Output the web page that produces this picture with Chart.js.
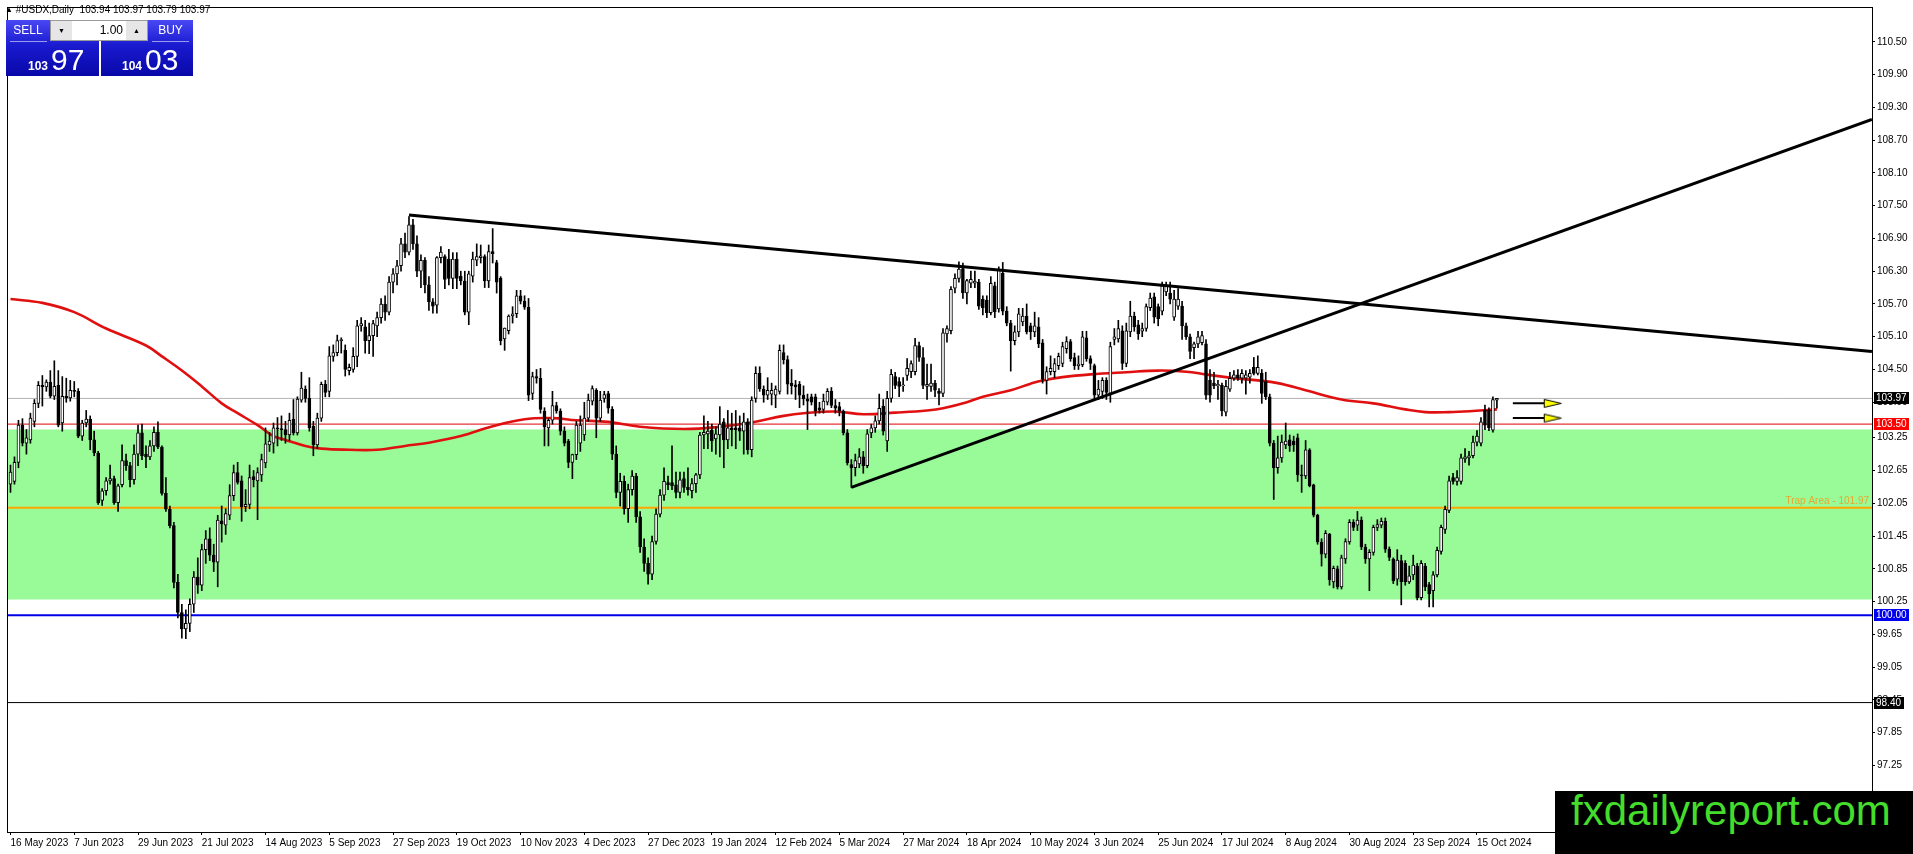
<!DOCTYPE html>
<html>
<head>
<meta charset="utf-8">
<title>#USDX,Daily</title>
<script src="https://cdn.jsdelivr.net/npm/chart.js@4.4.1/dist/chart.umd.min.js"></script>
<style>
  body { margin: 0; background: #fff; overflow: hidden; font-family: "Liberation Sans", Arial, sans-serif; }
  #wrap { position: relative; width: 1913px; height: 854px; }
  #usdx { position: absolute; left: 0; top: 0; }
  .title { position: absolute; left: 5px; top: 4px; font-size: 10px; color: #000; white-space: pre; }
  .title .tri { font-size: 8px; position: relative; top: -1px; }
  .blk { position: absolute; top: 20px; height: 56px; background: linear-gradient(#4848f4, #1a1ad0 45%, #0808a8); }
  .blk.sell { left: 6px; width: 93px; }
  .blk.buy { left: 101px; width: 92px; }
  .lbl { position: absolute; top: 20px; height: 21px; line-height: 21px; color: #fff; font-size: 12px; text-align: center; }
  .sep { position: absolute; top: 41px; height: 1px; background: rgba(255,255,255,0.55); }
  .spin { position: absolute; left: 50px; top: 20px; width: 96px; height: 19px; background: #fff; border: 1px solid #9a9a9a; }
  .btn { position: absolute; top: 0; width: 21px; height: 19px; background: #e6e6e6; font-size: 7px; line-height: 19px; text-align: center; color: #000; }
  .val { position: absolute; right: 24px; top: 0; line-height: 19px; font-size: 12px; color: #000; }
  .price { position: absolute; top: 45px; font-size: 30px; line-height: 1; color: #fff; white-space: nowrap; }
  .price b { font-size: 12px; font-weight: bold; margin-right: 3px; }
  .brand { position: absolute; left: 1555px; top: 791px; width: 358px; height: 63px; background: #000; overflow: hidden; }
  .brand span { position: absolute; left: 16px; top: -1px; font-size: 42px; line-height: 1; color: #44dd2c; white-space: nowrap; }
</style>
</head>
<body>
<div id="wrap">
  <canvas id="usdx" width="1913" height="854"></canvas>
  <div class="title"><span class="tri">&#9650;</span> #USDX,Daily  103.94 103.97 103.79 103.97</div>
  <div class="blk sell"></div>
  <div class="blk buy"></div>
  <div class="lbl" style="left:6px;width:44px">SELL</div>
  <div class="lbl" style="left:148px;width:45px">BUY</div>
  <div class="sep" style="left:10px;width:37px"></div>
  <div class="sep" style="left:152px;width:37px"></div>
  <div class="spin">
    <div class="btn" style="left:0">&#9660;</div>
    <div class="val">1.00</div>
    <div class="btn" style="right:0">&#9650;</div>
  </div>
  <div class="price" style="left:28px"><b>103</b>97</div>
  <div class="price" style="left:122px"><b>104</b>03</div>
  <div class="brand"><span>fxdailyreport.com</span></div>
</div>
<script>
// Daily bars, 16 May 2023 .. 22 Oct 2024
const opens = [
  102.40,102.45,102.80,103.48,103.15,103.21,103.55,103.88,104.21,104.18,
  104.27,104.01,104.21,103.52,104.01,103.98,104.12,104.10,103.28,103.52,
  103.59,103.21,102.97,102.10,102.28,102.46,102.50,102.06,102.39,102.83,
  102.74,102.48,102.95,103.34,102.95,102.90,103.10,103.35,103.08,102.23,
  101.94,101.64,100.60,100.05,99.75,99.85,100.20,100.70,100.55,101.20,
  101.40,101.10,100.97,101.73,101.65,101.83,102.19,102.61,102.46,101.99,
  102.03,102.54,102.46,102.57,102.79,103.12,103.15,103.43,103.42,103.40,
  103.30,103.59,103.34,103.94,104.14,103.97,103.46,103.12,103.61,104.23,
  104.10,104.74,104.81,105.03,104.85,104.48,104.50,104.74,105.30,105.28,
  105.03,105.12,105.30,105.45,105.70,105.55,106.10,106.25,106.40,106.80,
  106.65,107.15,106.80,106.30,106.50,106.05,105.74,105.68,106.55,106.57,
  106.52,106.17,106.52,106.21,106.12,105.55,106.21,106.50,106.55,106.57,
  106.12,106.66,106.46,106.17,105.06,105.21,105.48,105.52,105.85,105.75,
  105.64,104.06,104.37,104.34,103.74,103.43,103.57,103.84,103.74,103.37,
  103.19,102.80,102.94,103.15,103.30,103.61,103.92,104.12,103.61,103.97,
  104.06,103.77,102.95,102.25,102.45,101.95,102.30,102.55,101.80,101.25,
  100.95,100.75,101.35,101.85,102.20,102.43,102.43,102.39,102.25,102.50,
  102.34,102.28,102.41,102.57,103.30,103.32,103.39,103.23,103.30,103.54,
  103.21,103.43,103.43,103.43,103.37,103.54,103.03,103.97,104.43,104.14,
  104.03,104.05,104.03,104.10,104.81,104.68,104.25,104.22,104.23,104.03,
  103.96,104.00,104.00,103.80,103.77,103.90,104.10,103.84,103.82,103.74,
  103.34,102.76,102.70,102.77,102.90,102.74,103.34,103.43,103.56,103.83,
  103.19,103.97,104.37,104.28,104.20,104.39,104.46,104.46,104.94,104.72,
  104.19,104.19,104.25,104.10,104.06,105.15,105.21,105.99,106.17,106.35,
  105.90,106.08,106.08,106.10,105.79,105.77,105.54,106.03,105.61,106.26,
  105.57,105.35,105.03,105.19,105.37,105.48,105.30,105.19,105.28,104.99,
  104.30,104.46,104.46,104.57,104.61,104.88,105.01,104.72,104.57,104.59,
  105.08,104.70,104.57,104.03,104.10,104.30,104.06,105.05,105.06,105.21,
  104.61,105.19,105.48,105.32,105.20,105.25,105.63,105.83,105.65,105.57,
  105.92,105.90,105.46,105.66,105.66,105.30,105.10,104.90,104.97,104.99,
  104.97,104.30,104.25,104.20,104.21,103.72,104.14,104.34,104.40,104.34,
  104.34,104.36,104.54,104.43,104.43,104.28,104.00,103.15,102.70,102.88,
  103.12,103.21,103.19,103.25,102.57,102.55,103.03,102.39,101.83,101.34,
  101.12,101.48,100.61,100.85,100.52,101.03,101.34,101.70,101.65,101.74,
  101.25,101.03,101.15,101.61,101.65,101.72,101.21,101.03,100.66,101.00,
  100.95,100.61,100.74,100.90,100.32,100.90,100.56,100.45,100.74,101.17,
  101.57,101.92,102.52,102.45,102.45,102.86,102.88,102.92,103.17,103.15,
  103.75,103.75,103.39,103.94
];
const highs = [
  102.75,102.90,103.57,103.60,103.40,103.70,103.95,104.28,104.39,104.31,
  104.48,104.66,104.48,104.37,104.34,104.30,104.28,104.15,103.57,103.75,
  103.65,103.37,103.00,102.32,102.52,102.75,102.55,102.40,103.12,102.95,
  102.80,103.12,103.48,103.50,103.10,103.20,103.45,103.54,103.10,102.52,
  102.00,101.70,100.75,100.20,100.10,100.30,100.80,101.05,101.30,101.55,
  101.60,101.30,101.83,102.00,101.95,102.39,102.75,102.80,102.55,102.30,
  102.75,102.65,102.70,102.95,103.43,103.35,103.52,103.62,103.65,103.55,
  103.70,103.95,104.00,104.45,104.20,104.35,103.55,103.70,104.27,104.30,
  104.92,104.95,105.13,105.08,104.95,104.60,104.90,105.40,105.45,105.40,
  105.35,105.40,105.55,105.80,105.85,106.20,106.35,106.50,106.90,107.00,
  107.30,107.25,106.95,106.60,106.55,106.20,105.80,106.57,106.75,106.60,
  106.70,106.64,106.64,106.30,106.30,106.30,106.65,106.80,106.78,106.60,
  106.78,107.08,106.50,106.20,105.26,105.50,105.65,105.95,105.95,105.85,
  105.80,104.45,104.50,104.52,103.80,103.60,104.10,103.90,103.78,103.45,
  103.22,102.95,103.55,103.65,103.90,104.05,104.20,104.15,104.10,104.10,
  104.10,103.82,103.10,102.60,102.55,102.40,102.65,102.60,101.90,101.40,
  101.05,101.45,101.95,102.30,102.70,102.55,103.10,102.62,102.62,102.62,
  102.70,102.50,102.60,103.35,103.65,103.55,103.50,103.45,103.82,103.60,
  103.75,103.70,103.75,103.65,103.70,103.60,104.00,104.55,104.55,104.20,
  104.35,104.25,104.20,104.95,104.95,104.75,104.50,104.30,104.28,104.20,
  104.05,104.05,104.05,103.90,104.05,104.15,104.17,103.95,103.90,103.76,
  103.40,102.85,102.95,103.05,103.00,103.40,103.50,103.65,104.05,103.95,
  104.10,104.50,104.45,104.35,104.35,104.70,104.66,105.07,105.00,104.90,
  104.60,104.60,104.30,104.15,105.25,105.30,106.02,106.25,106.47,106.45,
  106.15,106.30,106.30,106.15,105.85,105.85,106.20,106.10,106.38,106.46,
  105.65,105.40,105.30,105.62,105.62,105.70,105.35,105.55,105.45,105.05,
  104.55,104.75,104.70,104.80,105.00,105.10,105.05,104.80,104.75,105.20,
  105.20,104.75,104.60,104.30,104.35,104.35,105.00,105.25,105.40,105.30,
  105.35,105.75,105.55,105.40,105.35,105.70,105.90,105.90,105.70,106.10,
  106.10,106.10,105.95,105.98,105.75,105.35,105.15,105.00,105.20,105.20,
  105.05,104.50,104.45,104.30,104.25,104.30,104.45,104.48,104.50,104.50,
  104.48,104.50,104.72,104.75,104.50,104.45,104.05,103.20,103.28,103.30,
  103.52,103.30,103.28,103.32,102.75,103.20,103.05,102.40,101.85,101.40,
  101.55,101.50,100.90,100.90,101.10,101.40,101.75,101.75,101.90,101.80,
  101.30,101.20,101.65,101.75,101.78,101.78,101.25,101.05,101.20,101.10,
  101.00,100.90,101.10,100.95,101.00,100.95,100.60,100.80,101.25,101.65,
  102.00,102.55,102.60,102.65,102.95,103.05,103.00,103.28,103.38,103.62,
  103.85,103.80,104.00,103.97
];
const lows = [
  102.25,102.40,102.70,103.10,102.95,103.15,103.45,103.80,103.83,104.10,
  103.98,103.95,103.45,103.37,103.90,103.92,104.00,103.25,103.20,103.45,
  103.03,102.92,102.03,102.01,102.20,102.40,102.03,101.90,102.35,102.65,
  102.35,102.40,102.74,102.85,102.70,102.85,103.00,103.05,102.20,101.90,
  101.60,100.50,99.95,99.58,99.57,99.70,100.05,100.40,100.45,100.95,
  101.00,100.80,100.52,101.34,101.48,101.75,102.10,102.40,101.72,101.90,
  101.95,102.35,101.75,102.45,102.70,103.00,102.97,103.10,103.20,103.15,
  103.20,103.30,103.30,103.90,103.90,103.37,102.92,103.05,103.55,104.00,
  104.00,104.65,104.75,104.80,104.38,104.40,104.45,104.55,105.20,104.80,
  104.79,104.74,105.10,105.35,105.40,105.50,105.90,106.05,106.30,106.55,
  106.60,106.70,106.20,106.00,105.90,105.58,105.53,105.53,106.45,105.98,
  106.05,105.98,105.98,106.05,105.50,105.32,106.10,106.40,106.45,106.00,
  106.00,106.45,105.90,104.95,104.85,105.15,105.35,105.45,105.70,105.60,
  103.93,103.95,104.25,103.70,103.10,103.10,103.50,103.70,103.30,103.10,
  102.70,102.50,102.85,103.00,103.20,103.55,103.85,103.25,103.55,103.90,
  103.70,102.85,102.15,102.00,101.85,101.70,102.20,101.70,101.15,100.80,
  100.57,100.65,101.30,101.80,102.10,102.30,102.30,102.15,102.15,102.25,
  102.20,102.15,102.25,102.50,103.05,103.05,103.00,102.95,102.90,102.70,
  103.05,103.10,103.05,103.20,102.95,102.95,102.90,103.90,104.10,103.90,
  103.95,103.85,103.80,104.05,104.60,104.05,104.05,103.95,103.80,103.85,
  103.40,103.85,103.65,103.70,103.70,103.85,103.80,103.70,103.65,103.30,
  102.75,102.34,102.55,102.70,102.60,102.70,103.25,103.35,103.50,103.30,
  103.00,103.90,104.15,104.00,104.10,104.30,104.35,104.40,104.65,104.15,
  103.95,104.10,104.00,103.85,104.00,105.00,105.15,105.90,106.10,105.80,
  105.70,106.00,106.00,105.60,105.50,105.45,105.50,105.45,105.55,105.50,
  105.30,104.47,104.95,105.10,105.30,105.15,105.05,105.10,104.90,104.25,
  104.05,104.40,104.35,104.50,104.55,104.80,104.65,104.50,104.50,104.55,
  104.65,104.50,103.95,103.95,103.97,103.95,103.90,104.95,105.00,104.50,
  104.55,105.10,105.20,105.05,105.10,105.20,105.58,105.35,105.30,105.50,
  105.85,105.70,105.40,105.60,105.05,105.05,104.70,104.70,104.90,104.95,
  103.95,103.90,104.15,103.95,103.65,103.65,104.10,104.30,104.30,104.25,
  104.05,104.25,104.40,104.40,103.88,103.95,103.10,102.12,102.60,102.80,
  103.05,103.00,103.00,102.45,102.25,102.50,102.35,101.80,101.30,100.90,
  101.05,100.55,100.50,100.48,100.48,100.95,101.30,101.55,101.55,101.20,
  100.95,100.45,101.10,101.55,101.60,101.15,101.00,100.58,100.55,100.19,
  100.55,100.58,100.65,100.28,100.28,100.45,100.15,100.15,100.70,101.12,
  101.50,101.88,102.40,102.38,102.40,102.80,102.75,102.88,103.10,103.10,
  103.40,103.38,103.35,103.79
];
const closes = [
  102.62,102.80,103.48,103.15,103.25,103.61,103.88,104.21,104.18,104.27,
  104.01,104.19,103.48,104.01,103.98,104.12,104.10,103.28,103.52,103.59,
  103.21,102.97,102.06,102.28,102.46,102.50,102.06,102.37,102.83,102.74,
  102.48,102.95,103.34,102.92,102.90,103.10,103.35,103.08,102.23,101.94,
  101.64,100.60,100.05,99.75,99.85,100.20,100.70,100.55,101.20,101.40,
  101.10,100.97,101.74,101.67,101.86,102.19,102.61,102.43,101.99,102.03,
  102.52,102.48,102.61,102.85,103.14,103.19,103.43,103.41,103.40,103.30,
  103.57,103.34,103.96,104.16,103.97,103.43,103.12,103.61,104.23,104.08,
  104.75,104.81,105.03,105.05,104.50,104.54,104.74,105.30,105.34,105.03,
  105.12,105.34,105.45,105.70,105.55,106.10,106.25,106.40,106.80,106.65,
  107.15,106.80,106.30,106.50,106.05,105.74,105.66,106.55,106.65,106.15,
  106.17,106.52,106.17,106.12,105.55,106.25,106.52,106.57,106.58,106.12,
  106.66,106.62,106.10,105.03,105.26,105.48,105.52,105.85,105.75,105.64,
  104.03,104.37,104.34,103.77,103.45,103.57,103.84,103.74,103.37,103.15,
  102.80,102.94,103.48,103.48,103.61,103.94,104.15,103.61,103.94,104.04,
  103.79,102.95,102.25,102.45,101.95,102.30,102.55,101.80,101.25,100.95,
  100.75,101.35,101.85,102.20,102.45,102.39,102.37,102.25,102.48,102.34,
  102.30,102.41,102.57,103.30,103.35,103.37,103.19,103.32,103.50,103.21,
  103.43,103.40,103.40,103.37,103.54,103.03,103.94,104.43,104.15,104.03,
  104.12,104.12,104.14,104.85,104.68,104.23,104.20,104.18,104.03,103.96,
  103.92,103.90,103.74,103.76,103.92,104.10,103.84,103.79,103.74,103.34,
  102.79,102.70,102.83,102.90,102.74,103.32,103.43,103.56,103.79,103.37,
  103.97,104.41,104.21,104.19,104.22,104.52,104.61,104.94,104.72,104.21,
  104.23,104.25,104.12,104.06,105.17,105.25,105.97,106.17,106.34,105.90,
  106.13,106.15,106.12,105.66,105.63,105.54,106.08,105.56,106.34,105.57,
  105.35,105.03,105.19,105.52,105.48,105.19,105.19,105.30,104.97,104.32,
  104.46,104.52,104.61,104.74,104.92,105.01,104.70,104.57,104.60,105.10,
  104.70,104.61,104.03,104.14,104.30,104.08,104.92,105.10,105.25,104.61,
  105.21,105.48,105.28,105.15,105.25,105.65,105.81,105.46,105.43,106.03,
  106.03,105.79,105.79,105.79,105.30,105.10,104.83,104.97,105.10,105.12,
  104.03,104.03,104.20,104.23,103.74,104.19,104.34,104.40,104.34,104.43,
  104.40,104.43,104.43,104.54,104.06,104.00,103.15,102.70,102.88,103.17,
  103.19,103.10,103.12,102.57,102.55,103.03,102.37,101.83,101.34,101.12,
  101.50,100.65,100.86,100.52,101.05,101.35,101.70,101.61,101.74,101.25,
  101.03,101.15,101.61,101.66,101.72,101.21,101.06,100.63,101.01,100.61,
  100.61,100.72,100.92,100.32,100.95,100.52,100.39,100.74,101.19,101.61,
  101.94,102.46,102.45,102.52,102.88,102.90,102.92,103.17,103.28,103.54,
  103.48,103.43,103.95,103.97
];

// moving average (red curve), sampled at bar positions
const maBars =   [0, 8, 16, 24, 34, 38, 43, 48, 53, 57, 62, 66, 69, 74, 78, 85, 92, 99, 105, 113,
                  121, 129, 136, 142, 150, 158, 169, 178, 186, 194, 199, 207, 214, 222, 230, 234, 240, 244, 251, 256,
                  259, 264, 271, 280, 288, 295, 300, 307, 313, 318, 325, 334, 342, 350, 355, 361, 367, 373];
const maValues = [105.79, 105.72, 105.55, 105.25, 104.94, 104.74, 104.48, 104.19, 103.88, 103.70, 103.48, 103.28, 103.21, 103.10, 103.05, 103.03, 103.03, 103.10, 103.16, 103.28,
                  103.46, 103.59, 103.61, 103.57, 103.54, 103.45, 103.41, 103.45, 103.53, 103.65, 103.70, 103.73, 103.68, 103.71, 103.75, 103.79, 103.90, 104.00, 104.12, 104.24,
                  104.30, 104.36, 104.41, 104.45, 104.48, 104.46, 104.41, 104.34, 104.30, 104.25, 104.12, 103.95, 103.88, 103.77, 103.72, 103.72, 103.74, 103.77];

// drawn objects
const topLineBars = [100, 467.1];
const topLinePrices = [107.33, 104.83];
const riseLineBars = [211, 467.1];
const riseLinePrices = [102.34, 109.08];
const arrowBars = [377, 387];
const arrowPrices = [103.88, 103.61];
const levelPrices = [103.97, 103.50, 101.97, 100.00, 98.40];
const zoneBounds = [100.29, 103.40];
const trapLevel = 101.97;
const tagPrices = [103.97, 103.50, 100.00, 98.40];

// axis ticks
const dateTicks = ['16 May 2023', '7 Jun 2023', '29 Jun 2023', '21 Jul 2023', '14 Aug 2023', '5 Sep 2023',
                   '27 Sep 2023', '19 Oct 2023', '10 Nov 2023', '4 Dec 2023', '27 Dec 2023', '19 Jan 2024',
                   '12 Feb 2024', '5 Mar 2024', '27 Mar 2024', '18 Apr 2024', '10 May 2024', '3 Jun 2024',
                   '25 Jun 2024', '17 Jul 2024', '8 Aug 2024', '30 Aug 2024', '23 Sep 2024', '15 Oct 2024'];
const priceTicks = [110.50, 109.90, 109.30, 108.70, 108.10, 107.50, 106.90, 106.30, 105.70, 105.10, 104.50, 103.90,
                    103.25, 102.65, 102.05, 101.45, 100.85, 100.25, 99.65, 99.05, 98.45, 97.85, 97.25, 96.65];

// styles
const levelColors = ['#b4b4b4', '#e00000', '#ffa500', '#0000e6', '#000000'];
const levelWidths = [1, 1, 2, 2, 1];
const tagColors = ['#000000', '#ff0000', '#0000f0', '#000000'];
const axisFont = { family: '"Liberation Sans", Arial, sans-serif', size: 10 };

const xMin = -0.625, xMax = 467.125;

function hline(p) {
  return [{ x: xMin, y: p }, { x: xMax, y: p }];
}

function pairs(xs, ys) {
  return xs.map((x, i) => ({ x: x, y: ys[i] }));
}

// yellow arrow head used as point image
function arrowHead() {
  const c = document.createElement('canvas');
  c.width = 20; c.height = 11;
  const g = c.getContext('2d');
  g.beginPath();
  g.moveTo(1.5, 1.5); g.lineTo(18.5, 5.5); g.lineTo(1.5, 9.5); g.closePath();
  g.fillStyle = '#ffff00'; g.fill();
  g.strokeStyle = '#000'; g.lineWidth = 1; g.stroke();
  return c;
}

// MT4-like frame, trap label and price tags on the right axis
const chartDecor = {
  id: 'chartDecor',
  afterDraw(chart) {
    const { ctx, chartArea: a, scales: { y } } = chart;
    ctx.save();
    ctx.strokeStyle = '#000';
    ctx.lineWidth = 1;
    ctx.strokeRect(a.left - 0.5, a.top - 0.5, a.right - a.left + 1, a.bottom - a.top + 1);

    ctx.font = '10px "Liberation Sans", Arial, sans-serif';
    ctx.fillStyle = '#e8a830';
    ctx.textAlign = 'right';
    ctx.textBaseline = 'bottom';
    ctx.fillText('Trap Area - ' + trapLevel.toFixed(2), a.right - 3, y.getPixelForValue(trapLevel) - 1);

    ctx.textAlign = 'left';
    ctx.textBaseline = 'middle';
    tagPrices.forEach((p, k) => {
      const py = Math.round(y.getPixelForValue(p));
      const txt = p.toFixed(2);
      const w = Math.ceil(ctx.measureText(txt).width) + 4;
      ctx.fillStyle = tagColors[k];
      ctx.fillRect(a.right + 2, py - 6, w, 12);
      ctx.fillStyle = '#fff';
      ctx.fillText(txt, a.right + 4, py + 0.5);
    });
    ctx.restore();
  }
};

document.addEventListener('DOMContentLoaded', function () {
  const ctx = document.getElementById('usdx').getContext('2d');
  const head = arrowHead();

  const bodyFill = closes.map((c, i) => (c >= opens[i] ? '#ffffff' : '#000000'));

  const datasets = [
    // green zone between two bounds
    { type: 'line', data: hline(zoneBounds[1]), borderColor: 'rgba(0,0,0,0)', borderWidth: 0,
      pointRadius: 0, fill: '+1', backgroundColor: '#98fb98', order: 20 },
    { type: 'line', data: hline(zoneBounds[0]), borderColor: 'rgba(0,0,0,0)', borderWidth: 0,
      pointRadius: 0, fill: false, order: 20 }
  ];

  levelPrices.forEach((p, k) => {
    datasets.push({ type: 'line', data: hline(p), borderColor: levelColors[k], borderWidth: levelWidths[k],
      pointRadius: 0, fill: false, order: 15 });
  });

  datasets.push({
    type: 'line', data: pairs(maBars, maValues), borderColor: '#e01010', borderWidth: 2.6,
    pointRadius: 0, tension: 0.4, fill: false, order: 8
  });

  // wicks and bodies
  datasets.push({
    type: 'bar', data: highs.map((h, i) => ({ x: i, y: [lows[i], h] })),
    backgroundColor: '#000', barThickness: 1, grouped: false, order: 6
  });
  datasets.push({
    type: 'bar', data: closes.map((c, i) => ({ x: i, y: [opens[i], c] })),
    backgroundColor: bodyFill, borderColor: '#000', borderWidth: 1, borderSkipped: false,
    barThickness: 3, minBarLength: 1, grouped: false, order: 5
  });

  // trend lines
  datasets.push({ type: 'line', data: pairs(topLineBars, topLinePrices), borderColor: '#000', borderWidth: 3,
    pointRadius: 0, fill: false, order: 2 });
  datasets.push({ type: 'line', data: pairs(riseLineBars, riseLinePrices), borderColor: '#000', borderWidth: 3,
    pointRadius: 0, fill: false, order: 2 });

  // two arrows
  arrowPrices.forEach(p => {
    datasets.push({
      type: 'line', data: pairs(arrowBars, [p, p]), borderColor: '#000', borderWidth: 2, fill: false,
      pointRadius: c => (c.dataIndex === 1 ? 6 : 0),
      pointStyle: c => (c.dataIndex === 1 ? head : 'circle'),
      order: 1
    });
  });

  new Chart(ctx, {
    type: 'bar',
    data: { datasets: datasets },
    options: {
      responsive: false,
      devicePixelRatio: 1,
      animation: false,
      events: [],
      layout: { padding: { left: 1, top: 2, right: 0, bottom: 0 } },
      plugins: { legend: { display: false }, tooltip: { enabled: false } },
      scales: {
        x: {
          type: 'linear', min: xMin, max: xMax, offset: false,
          grid: { offset: false, drawOnChartArea: false, drawTicks: true, tickLength: 3, color: '#000' },
          border: { display: false },
          afterBuildTicks: axis => { axis.ticks = dateTicks.map((_, k) => ({ value: k * 16 })); },
          afterFit: axis => { axis.height = 22; axis.paddingLeft = 0; axis.paddingRight = 0; },
          ticks: {
            autoSkip: false, maxRotation: 0, align: 'start', padding: 2,
            color: '#000', font: axisFont,
            callback: (v, k) => dateTicks[k]
          }
        },
        y: {
          position: 'right', min: 96.03, max: 111.12,
          grid: { drawOnChartArea: false, drawTicks: true, tickLength: 3, color: '#000' },
          border: { display: false },
          afterBuildTicks: axis => { axis.ticks = priceTicks.map(v => ({ value: v })); },
          afterFit: axis => { axis.width = 41; axis.paddingTop = 0; axis.paddingBottom = 0; },
          ticks: {
            padding: 2, color: '#000', font: axisFont,
            callback: v => Number(v).toFixed(2)
          }
        }
      }
    },
    plugins: [chartDecor]
  });
});
</script>
</body>
</html>
